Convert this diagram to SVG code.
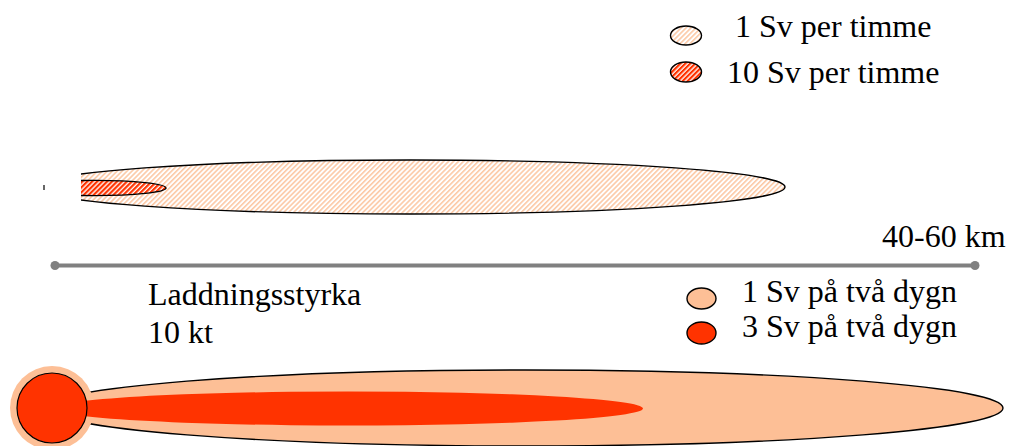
<svg xmlns="http://www.w3.org/2000/svg" width="1011" height="446" viewBox="0 0 1011 446">
  <style>
    .ol { stroke: #000; stroke-width: 1.4; }
    .t { font-family: "Liberation Serif", "Times New Roman", serif; font-size: 32px; fill: #000; }
  </style>
  <defs>
    <pattern id="hatchLight" patternUnits="userSpaceOnUse" width="3.5" height="3.5" patternTransform="rotate(45)">
      <rect width="3.5" height="3.5" fill="#fff"/>
      <rect width="1.6" height="3.5" fill="#FCC9A6"/>
    </pattern>
    <pattern id="hatchRed" patternUnits="userSpaceOnUse" width="3.5" height="3.5" patternTransform="rotate(45)">
      <rect width="3.5" height="3.5" fill="#fff"/>
      <rect width="2.2" height="3.5" fill="#FF3300"/>
    </pattern>
    <clipPath id="cutTop">
      <rect x="81" y="140" width="720" height="90"/>
    </clipPath>
  </defs>

  <g id="legend-1sv-timme">
    <ellipse cx="686" cy="35.5" rx="15.5" ry="9.5" fill="url(#hatchLight)" class="ol"/>
    <text class="t" x="735" y="37">1 Sv per timme</text>
  </g>
  <g id="legend-10sv-timme">
    <ellipse cx="686" cy="72" rx="15.5" ry="10" fill="url(#hatchRed)" class="ol"/>
    <text class="t" x="727" y="83">10 Sv per timme</text>
  </g>

  <g id="plume-top" clip-path="url(#cutTop)">
    <ellipse cx="410" cy="187" rx="375" ry="27" fill="url(#hatchLight)" class="ol"/>
    <ellipse cx="95" cy="188" rx="71" ry="7.6" fill="url(#hatchRed)" class="ol"/>
  </g>
  <g id="tick">
    <line x1="44" y1="185" x2="44" y2="190" stroke="#000" stroke-width="1.2"/>
  </g>

  <g id="scale">
    <line x1="55" y1="265.5" x2="975" y2="265.5" stroke="#808080" stroke-width="4"/>
    <circle cx="55" cy="265.5" r="4.5" fill="#808080"/>
    <circle cx="975" cy="265.5" r="4.5" fill="#808080"/>
    <text class="t" x="882" y="247">40-60 km</text>
  </g>

  <g id="label-laddning">
    <text class="t" x="148" y="305">Laddningsstyrka</text>
    <text class="t" x="148" y="343">10 kt</text>
  </g>

  <g id="legend-1sv-dygn">
    <ellipse cx="701.5" cy="298.5" rx="14.5" ry="10.5" fill="#FDBF96" class="ol"/>
    <text class="t" x="742" y="302">1 Sv på två dygn</text>
  </g>
  <g id="legend-3sv-dygn">
    <ellipse cx="701.5" cy="333" rx="14.5" ry="11" fill="#FF3300" class="ol"/>
    <text class="t" x="742" y="337">3 Sv på två dygn</text>
  </g>

  <g id="plume-bottom">
    <ellipse cx="525" cy="408" rx="478" ry="38" fill="#FDBF96" class="ol"/>
    <circle cx="52" cy="408" r="42" fill="#FDBF96"/>
    <ellipse cx="348" cy="408.5" rx="295" ry="17" fill="#FF3300"/>
    <circle cx="52" cy="408" r="35" fill="#FF3300" stroke="#000" stroke-width="1.2"/>
  </g>
</svg>
